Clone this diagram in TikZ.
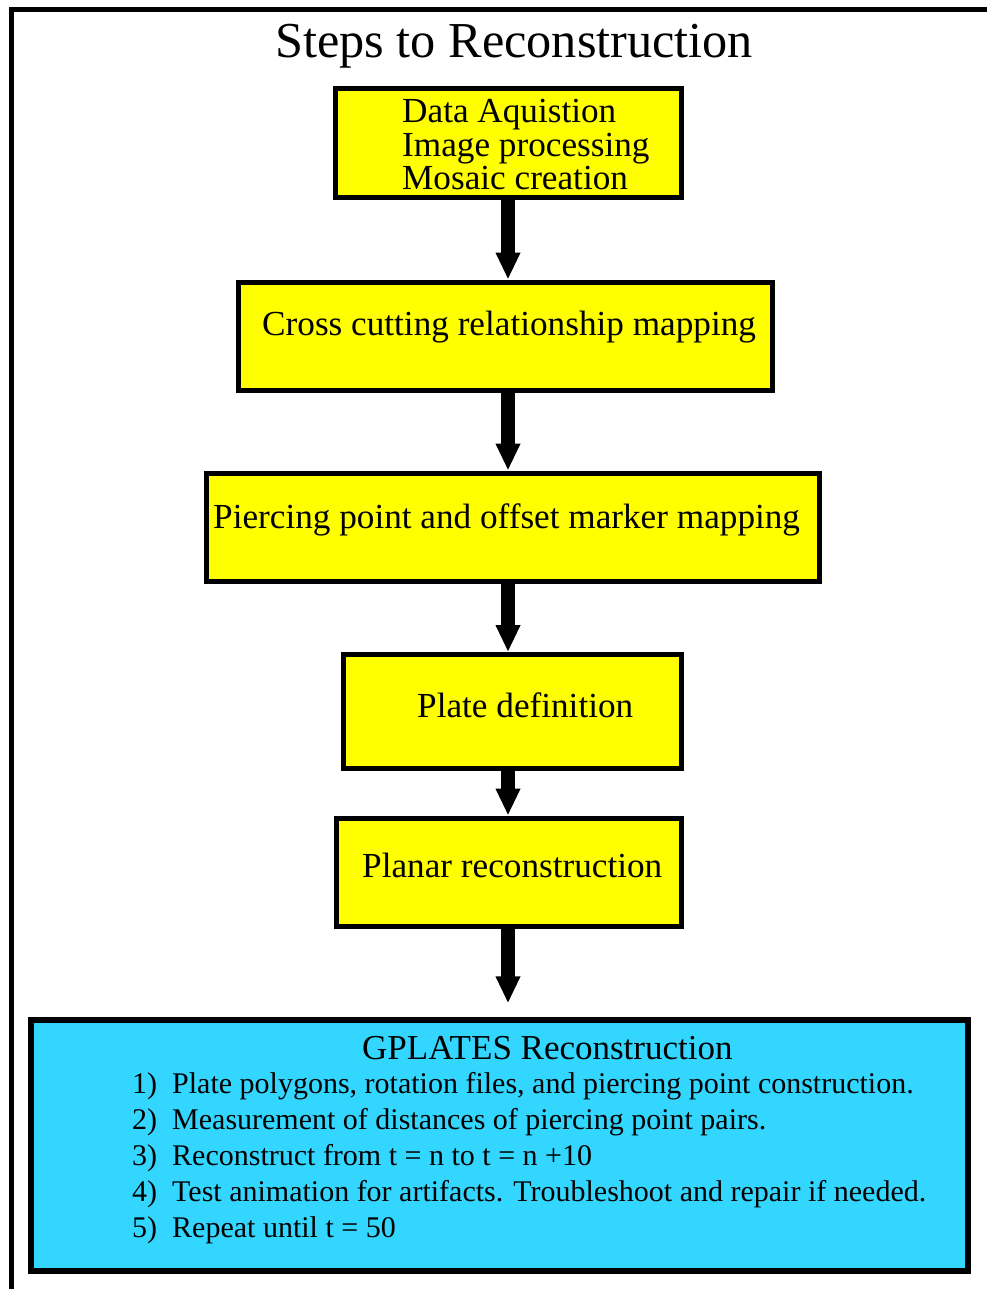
\documentclass[tikz,border=0pt]{standalone}
\usepackage{fontspec}
\setmainfont{Liberation Serif}
\usetikzlibrary{arrows.meta,positioning}
\definecolor{stepyellow}{RGB}{255,255,0}
\definecolor{gpcyan}{RGB}{51,214,255}

\begin{document}
\begin{tikzpicture}[
    x=1pt,y=-1pt,
    stepbox/.style={draw,line width=5pt,fill=stepyellow,inner sep=0pt},
    gpbox/.style={draw,line width=5.5pt,fill=gpcyan,inner sep=0pt},
    steptext/.style={anchor=base west,inner sep=0pt,align=left,font=\fontsize{35.2}{33.5}\selectfont},
    item/.style={anchor=base west,inner sep=0pt,font=\fontsize{30}{36}\selectfont},
    flow/.style={line width=14pt,-{Triangle[width=23pt,length=27pt]}},
    ]
  \useasboundingbox (0,0) rectangle (987,1289);
  \draw[line width=5pt] (11,1289) -- (11,9.5) -- (987,9.5);
  \coordinate (spine) at (508,0);

  \node[anchor=base west,inner sep=0pt,font=\fontsize{50.3}{51}\selectfont] (title) at (275,58) {Steps to Reconstruction};

  \node[stepbox,minimum width=346pt,minimum height=109.5pt] (acq) at (508,143.25) {};
  \node[steptext] (acqtext) at (402,190) {Data Aquistion\\Image processing\\Mosaic creation};

  \node[stepbox,minimum width=534pt,minimum height=108pt] (xcut) at (505,336) {};
  \node[steptext] (xcuttext) at (262,335) {Cross cutting relationship mapping};

  \node[stepbox,minimum width=613pt,minimum height=108pt] (pierce) at (512.5,527) {};
  \node[steptext] (piercetext) at (213,528) {Piercing point and offset marker mapping};

  \node[stepbox,minimum width=338pt,minimum height=113.5pt] (plate) at (512,711.25) {};
  \node[steptext] (platetext) at (417,717) {Plate definition};

  \node[stepbox,minimum width=345pt,minimum height=108pt] (planar) at (508.5,872) {};
  \node[steptext] (planartext) at (362,877) {Planar reconstruction};

  \node[gpbox,minimum width=937pt,minimum height=251pt] (gplates) at (499.5,1145.5) {};
  \node[anchor=base west,inner sep=0pt,font=\fontsize{35}{35}\selectfont] (gptitle) at (362,1059) {GPLATES Reconstruction};
  \foreach \txt [count=\i] in {{Plate polygons, rotation files, and piercing point construction.},
      {Measurement of distances of piercing point pairs.},
      {Reconstruct from t = n to t = n +10},
      {Test animation for artifacts. Troubleshoot and repair if needed.},
      {Repeat until t = 50}}
    \node[item] (step\i) at (132,1057+36*\i) {\makebox[40pt][l]{\i)}\txt};

  \draw[flow] (acq.south -| spine) -- (xcut.north -| spine);
  \draw[flow] (xcut.south -| spine) -- (pierce.north -| spine);
  \draw[flow] (pierce.south -| spine) -- (plate.north -| spine);
  \draw[flow] (plate.south -| spine) -- (planar.north -| spine);
  \draw[flow,shorten >=14pt] (planar.south -| spine) -- (gplates.north -| spine);
\end{tikzpicture}
\end{document}
